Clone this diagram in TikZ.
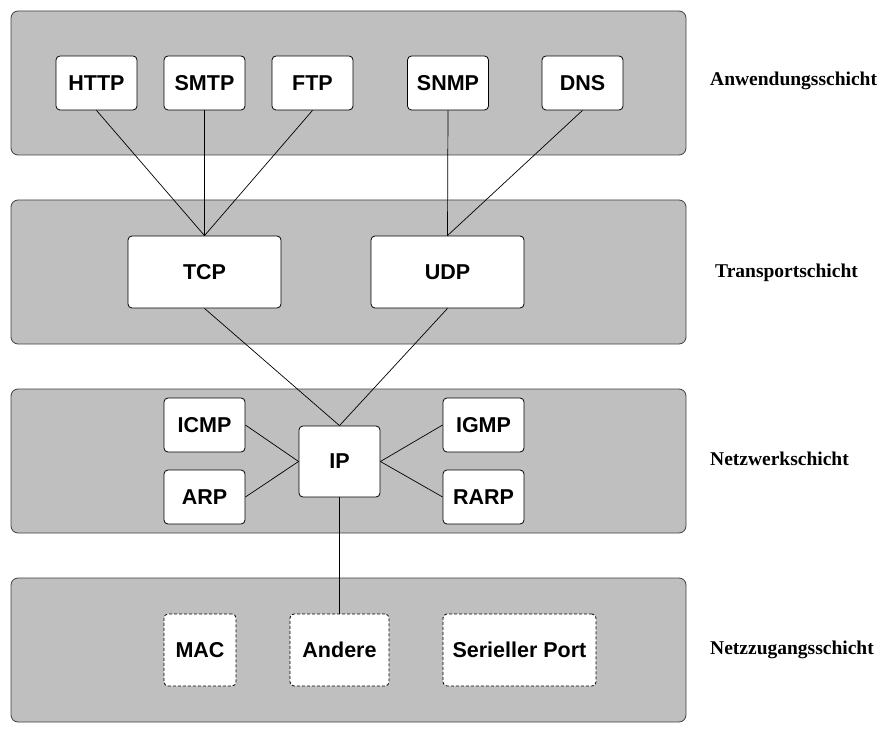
\documentclass[tikz,border=0pt]{standalone}
\usepackage{fontspec}
\setmainfont{Liberation Serif}
\newfontfamily\boxfont{Liberation Sans}
\begin{document}
\begin{tikzpicture}[x=1pt,y=-1pt,
  layer/.style={draw=black!75, fill=black!25, rounded corners=7pt, line width=0.8pt, inner sep=0pt, minimum width=675pt, minimum height=144pt},
  proto/.style={draw=black, fill=white, rounded corners=4pt, line width=0.8pt, inner sep=0pt, font=\boxfont\fontsize{21.5}{24}\selectfont\bfseries},
  dproto/.style={proto, dashed, dash pattern=on 3pt off 2pt},
  conn/.style={draw=black, line width=0.7pt},
  lbl/.style={anchor=west, inner sep=0pt, font=\fontsize{19.5}{22}\selectfont\bfseries}]
\useasboundingbox (0,0) rectangle (895,733);
% layers
\node[layer] (L1) at (348.5,83) {};
\node[layer] (L2) at (348.5,272) {};
\node[layer] (L3) at (348.5,461) {};
\node[layer] (L4) at (348.5,650) {};
% labels
\node[lbl] (t1) at (710,81) {Anwendungsschicht};
\node[lbl] (t2) at (715,273) {Transportschicht};
\node[lbl] (t3) at (710,459) {Netzwerkschicht};
\node[lbl] (t4) at (710,650) {Netzzugangsschicht};
% application
\node[proto, minimum width=81pt, minimum height=54pt] (http) at (96.5,83) {HTTP};
\node[proto, minimum width=81pt, minimum height=54pt] (smtp) at (204.5,83) {SMTP};
\node[proto, minimum width=81pt, minimum height=54pt] (ftp) at (312.5,83) {FTP};
\node[proto, minimum width=81pt, minimum height=54pt] (snmp) at (448,83) {SNMP};
\node[proto, minimum width=81pt, minimum height=54pt] (dns) at (582.5,83) {DNS};
% transport
\node[proto, minimum width=153pt, minimum height=72pt] (tcp) at (204.5,272) {TCP};
\node[proto, minimum width=153pt, minimum height=72pt] (udp) at (447.5,272) {UDP};
% network
\node[proto, minimum width=81pt, minimum height=54pt] (icmp) at (204.5,425) {ICMP};
\node[proto, minimum width=81pt, minimum height=54pt] (arp) at (204.5,497) {ARP};
\node[proto, minimum width=81pt, minimum height=71pt] (ip) at (339.5,461.5) {IP};
\node[proto, minimum width=81pt, minimum height=54pt] (igmp) at (483.5,425) {IGMP};
\node[proto, minimum width=81pt, minimum height=54pt] (rarp) at (483.5,497) {RARP};
% access
\node[dproto, minimum width=72pt, minimum height=72pt] (mac) at (200,650) {MAC};
\node[dproto, minimum width=99pt, minimum height=72pt] (andere) at (339.5,650) {Andere};
\node[dproto, minimum width=153pt, minimum height=72pt] (serial) at (519.5,650) {Serieller Port};
% connectors
\draw[conn] (http.south) -- (tcp.north);
\draw[conn] (smtp.south) -- (tcp.north);
\draw[conn] (ftp.south) -- (tcp.north);
\draw[conn] (snmp.south) -- (udp.north);
\draw[conn] (dns.south) -- (udp.north);
\draw[conn] (tcp.south) -- (ip.north);
\draw[conn] (udp.south) -- (ip.north);
\draw[conn] (icmp.east) -- (ip.west);
\draw[conn] (arp.east) -- (ip.west);
\draw[conn] (igmp.west) -- (ip.east);
\draw[conn] (rarp.west) -- (ip.east);
\draw[conn] (ip.south) -- (andere.north);
\end{tikzpicture}
\end{document}
